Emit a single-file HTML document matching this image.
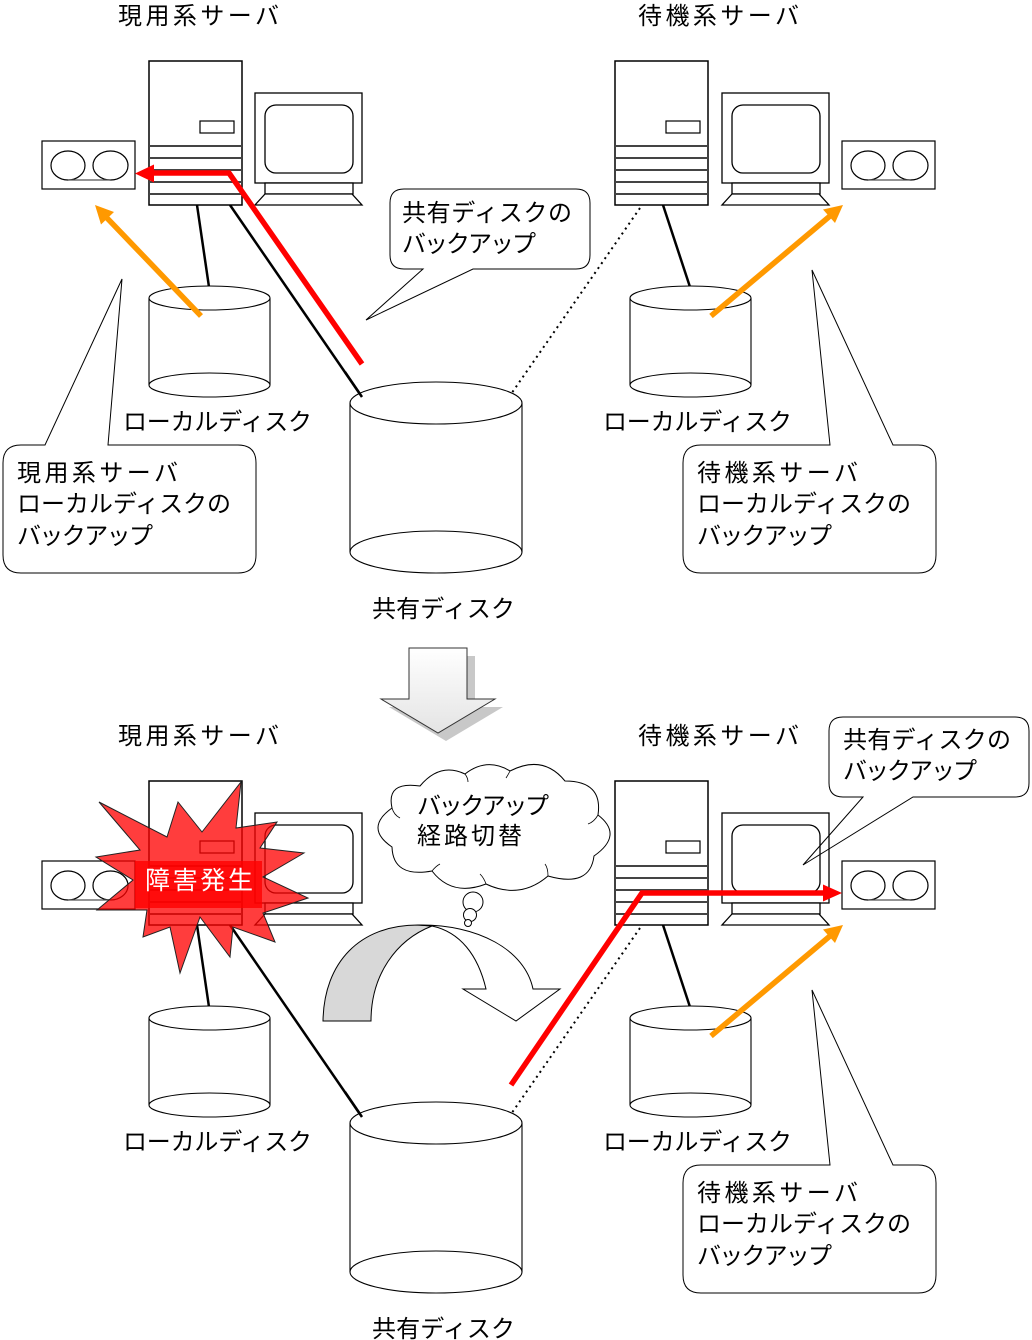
<!DOCTYPE html>
<html><head><meta charset="utf-8"><style>
html,body{margin:0;padding:0;background:#fff;}
svg{display:block;}
text{font-family:"Liberation Sans","Noto Sans CJK JP",sans-serif;font-size:24px;fill:#000;}
</style></head><body>
<svg width="1032" height="1340" viewBox="0 0 1032 1340" xmlns="http://www.w3.org/2000/svg">
<defs>
<linearGradient id="ag" x1="0" y1="0" x2="0" y2="1"><stop offset="0" stop-color="#ffffff"/><stop offset="1" stop-color="#e4e4e4"/></linearGradient>
<g id="server">
<rect x="0" y="0" width="93" height="144" fill="#fff" stroke="#000" stroke-width="1.5"/>
<rect x="51" y="60" width="34" height="12" fill="none" stroke="#000" stroke-width="1.2"/>
<g stroke="#444" stroke-width="2"><line x1="0" y1="85" x2="93" y2="85"/><line x1="0" y1="97" x2="93" y2="97"/><line x1="0" y1="109" x2="93" y2="109"/><line x1="0" y1="121" x2="93" y2="121"/><line x1="0" y1="133" x2="93" y2="133"/></g>
</g>
<g id="monitor" fill="#fff" stroke="#000" stroke-width="1.3">
<rect x="0" y="0" width="107" height="90"/>
<rect x="10" y="12" width="88" height="68" rx="11"/>
<rect x="10" y="90" width="88" height="11"/>
<path d="M10,101 L0,112 H107 L97,101 Z"/>
</g>
<g id="tape" fill="#fff" stroke="#000" stroke-width="1.2">
<rect x="0" y="0" width="93" height="48"/>
<ellipse cx="26" cy="24.5" rx="17" ry="14.5"/>
<ellipse cx="68.5" cy="24.5" rx="17.5" ry="14.5"/>
<line x1="26" y1="39" x2="68.5" y2="39" stroke="#555"/>
</g>
<g id="ldisk" fill="#fff" stroke="#000" stroke-width="1.1">
<path d="M0,298 V385 H121 V298 Z" stroke="none"/>
<line x1="0" y1="298" x2="0" y2="385"/><line x1="121" y1="298" x2="121" y2="385"/>
<ellipse cx="60.5" cy="385" rx="60.5" ry="12" fill="none"/>
<ellipse cx="60.5" cy="298" rx="60.5" ry="12"/>
</g>
<g id="sdisk" fill="#fff" stroke="#000" stroke-width="1.1">
<path d="M350,403 V552 H522 V403 Z" stroke="none"/>
<line x1="350" y1="403" x2="350" y2="552"/><line x1="522" y1="403" x2="522" y2="552"/>
<ellipse cx="436" cy="552" rx="86" ry="21" fill="none"/>
<ellipse cx="436" cy="403" rx="86" ry="21"/>
</g>
<path id="calloutR" d="M701,445 H830 L812,270 L893,445 H918 Q936,445 936,463 V555 Q936,573 918,573 H701 Q683,573 683,555 V463 Q683,445 701,445 Z" fill="#fff" stroke="#000" stroke-width="1"/>
</defs>

<!-- ================= TOP HALF ================= -->
<text x="118" y="24" textLength="161" lengthAdjust="spacing">現用系サーバ</text>
<text x="638" y="24" textLength="161" lengthAdjust="spacing">待機系サーバ</text>

<g stroke="#000" stroke-width="2.5" fill="none">
<line x1="197" y1="205" x2="209" y2="287"/>
<line x1="230" y1="205" x2="362" y2="397"/>
<line x1="663" y1="205" x2="690" y2="287"/>
</g>
<line x1="640" y1="208" x2="509" y2="397" stroke="#000" stroke-width="2" stroke-dasharray="2,4"/>

<use href="#ldisk" x="149" y="0"/>
<use href="#ldisk" x="630" y="0"/>
<use href="#sdisk"/>
<line x1="345" y1="372" x2="362" y2="397" stroke="#000" stroke-width="2.5"/>

<use href="#server" x="149" y="61"/>
<use href="#monitor" x="255" y="93"/>
<use href="#tape" x="42" y="141"/>
<use href="#server" x="615" y="61"/>
<use href="#monitor" x="722" y="93"/>
<use href="#tape" x="842" y="141"/>

<path d="M404,189 H576 Q590,189 590,203 V255 Q590,269 576,269 H473 L366,320 L423,269 H404 Q390,269 390,255 V203 Q390,189 404,189 Z" fill="#fff" stroke="#000" stroke-width="1"/>
<text x="402" y="221" textLength="170" lengthAdjust="spacing">共有ディスクの</text>
<text x="402" y="252" textLength="134" lengthAdjust="spacing">バックアップ</text>

<path d="M21,445 H45 L122,279 L108,445 H238 Q256,445 256,463 V555 Q256,573 238,573 H21 Q3,573 3,555 V463 Q3,445 21,445 Z" fill="#fff" stroke="#000" stroke-width="1"/>
<text x="17" y="481" textLength="161" lengthAdjust="spacing">現用系サーバ</text>
<text x="17" y="512" textLength="214" lengthAdjust="spacing">ローカルディスクの</text>
<text x="17" y="544" textLength="136" lengthAdjust="spacing">バックアップ</text>

<use href="#calloutR"/>
<text x="697" y="481" textLength="161" lengthAdjust="spacing">待機系サーバ</text>
<text x="697" y="512" textLength="214" lengthAdjust="spacing">ローカルディスクの</text>
<text x="697" y="544" textLength="135" lengthAdjust="spacing">バックアップ</text>

<polyline points="362,364 229,173 152,173" fill="none" stroke="#ff0000" stroke-width="5.5" stroke-linejoin="miter"/>
<polygon points="135,173.5 154,164.5 154,182.5" fill="#ff0000"/>

<line x1="201" y1="316" x2="107" y2="218" stroke="#ff9900" stroke-width="5.5"/>
<polygon points="95,205 114,212 101,224.5" fill="#ff9900"/>
<line x1="711" y1="316" x2="830" y2="216" stroke="#ff9900" stroke-width="5.5"/>
<polygon points="843,205 835,223 823,209.5" fill="#ff9900"/>

<text x="123" y="430" textLength="189" lengthAdjust="spacing">ローカルディスク</text>
<text x="603" y="430" textLength="189" lengthAdjust="spacing">ローカルディスク</text>
<text x="372" y="617" textLength="143" lengthAdjust="spacing">共有ディスク</text>

<!-- ================= DOWN ARROW ================= -->
<path d="M417,656 H475 V707 H503 L446,741 L389,707 H417 Z" fill="#c8c8c8"/>
<path d="M409,648 H467 V699 H495 L438,733 L381,699 H409 Z" fill="url(#ag)" stroke="#333" stroke-width="1"/>

<!-- ================= BOTTOM HALF ================= -->
<text x="118" y="744" textLength="161" lengthAdjust="spacing">現用系サーバ</text>
<text x="638" y="744" textLength="161" lengthAdjust="spacing">待機系サーバ</text>

<g stroke="#000" stroke-width="2.5" fill="none">
<line x1="197" y1="925" x2="209" y2="1007"/>
<line x1="230" y1="925" x2="362" y2="1117"/>
<line x1="663" y1="925" x2="690" y2="1007"/>
</g>
<line x1="640" y1="928" x2="509" y2="1117" stroke="#000" stroke-width="2" stroke-dasharray="2,4"/>

<use href="#ldisk" x="149" y="720"/>
<use href="#ldisk" x="630" y="720"/>
<use href="#sdisk" y="720"/>
<line x1="345" y1="1092" x2="362" y2="1117" stroke="#000" stroke-width="2.5"/>

<use href="#server" x="149" y="781"/>
<use href="#monitor" x="255" y="813"/>
<use href="#tape" x="42" y="861"/>
<use href="#server" x="615" y="781"/>
<use href="#monitor" x="722" y="813"/>
<use href="#tape" x="842" y="861"/>

<polygon points="99,802 167,837 178,802 202,832 241,782 236,828 277,822 260,848 304,853 263,877 308,898 263,913 275,942 233,927 230,957 200,917 180,973 170,927 143,937 147,910 97,910 133,880 96,857 140,850" fill="rgba(255,0,0,0.76)" stroke="#222" stroke-width="1"/>
<rect x="135" y="861" width="127" height="47" fill="rgba(255,0,0,0.8)"/>
<text x="145" y="889" textLength="108" lengthAdjust="spacing" style="fill:#fff;font-size:25px;">障害発生</text>

<use href="#calloutR" y="720"/>
<text x="697" y="1201" textLength="161" lengthAdjust="spacing">待機系サーバ</text>
<text x="697" y="1232" textLength="214" lengthAdjust="spacing">ローカルディスクの</text>
<text x="697" y="1264" textLength="135" lengthAdjust="spacing">バックアップ</text>

<path d="M843,717 H1015 Q1029,717 1029,731 V783 Q1029,797 1015,797 H913 L803,865 L863,797 H843 Q829,797 829,783 V731 Q829,717 843,717 Z" fill="none" stroke="#000" stroke-width="1"/>
<text x="843" y="748" textLength="168" lengthAdjust="spacing">共有ディスクの</text>
<text x="843" y="779" textLength="134" lengthAdjust="spacing">バックアップ</text>

<polyline points="511,1085 642,893 825,893" fill="none" stroke="#ff0000" stroke-width="5.5" stroke-linejoin="miter"/>
<polygon points="842,893 823,884.5 823,901.5" fill="#ff0000"/>

<line x1="711" y1="1036" x2="830" y2="936" stroke="#ff9900" stroke-width="5.5"/>
<polygon points="843,925 835,943 823,929.5" fill="#ff9900"/>

<path d="M323,1021 C324,962 360,925 418,925 L432,926 C396,940 371,975 371,1021 Z" fill="#d8d8d8" stroke="#000" stroke-width="1"/>
<path d="M418,925 C478,924 525,950 533,989 L560,989 L516,1021 L463,989 L486,989 C478,955 460,932 432,926 Z" fill="#fff" stroke="#000" stroke-width="1"/>

<path d="M392,847 Q364,828 392,808 Q386,781 420,786 Q440,762 465,774 Q487,757 510,771 Q543,754 565,781 Q603,781 598,815 Q624,835 594,856 Q590,888 548,876 Q520,900 486,884 Q452,897 432,871 Q393,878 392,847 Z" fill="#fff" stroke="#000" stroke-width="1"/>
<g fill="none" stroke="#000" stroke-width="0.8">
<path d="M392,808 Q394,815 400,818"/>
<path d="M465,774 Q468,778 468,782"/>
<path d="M510,771 Q508,775 506,778"/>
<path d="M598,815 Q594,822 588,824"/>
<path d="M548,876 Q548,868 545,864"/>
<path d="M486,884 Q484,878 480,874"/>
<path d="M432,871 Q436,866 440,864"/>
</g>
<circle cx="473" cy="902" r="10" fill="#fff" stroke="#000" stroke-width="1"/>
<circle cx="470" cy="915" r="6.5" fill="#fff" stroke="#000" stroke-width="1"/>
<circle cx="468" cy="923" r="3.5" fill="#fff" stroke="#000" stroke-width="1"/>
<text x="417" y="814" textLength="132" lengthAdjust="spacing">バックアップ</text>
<text x="417" y="844" textLength="105" lengthAdjust="spacing">経路切替</text>

<text x="123" y="1150" textLength="189" lengthAdjust="spacing">ローカルディスク</text>
<text x="603" y="1150" textLength="189" lengthAdjust="spacing">ローカルディスク</text>
<text x="372" y="1337" textLength="143" lengthAdjust="spacing">共有ディスク</text>
</svg>
</body></html>
